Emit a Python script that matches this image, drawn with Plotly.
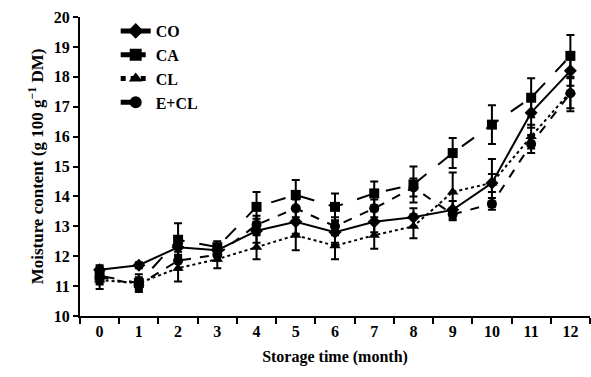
import plotly.graph_objects as go

months = [str(i) for i in range(13)]

co = [11.55, 11.7, 12.3, 12.2, 12.85, 13.15, 12.8, 13.15, 13.3, 13.55, 14.45, 16.8, 18.2]
ca = [11.35, 11.1, 12.55, 12.3, 13.65, 14.05, 13.65, 14.1, 14.4, 15.45, 16.4, 17.3, 18.7]
cl = [11.2, 11.1, 11.6, 11.9, 12.3, 12.7, 12.35, 12.7, 13.0, 14.15, 14.45, 16.0, 17.5]
ecl = [11.3, 11.05, 11.85, 12.05, 13.05, 13.6, 13.0, 13.6, 14.3, 13.4, 13.75, 15.75, 17.45]

co_err = [0.15, 0.1, 0.3, 0.2, 0.4, 0.4, 0.35, 0.35, 0.3, 0.3, 0.8, 0.5, 0.5]
ca_err = [0.3, 0.2, 0.55, 0.2, 0.5, 0.5, 0.45, 0.4, 0.6, 0.5, 0.65, 0.65, 0.7]
cl_err = [0.3, 0.3, 0.45, 0.3, 0.4, 0.5, 0.45, 0.45, 0.4, 0.65, 0.3, 0.4, 0.65]
ecl_err = [0.2, 0.2, 0.3, 0.2, 0.3, 0.3, 0.3, 0.3, 0.3, 0.2, 0.2, 0.3, 0.5]

series = [
    ("CO", co, co_err, "solid", "diamond"),
    ("CA", ca, ca_err, "longdash", "square"),
    ("CL", cl, cl_err, "dot", "triangle-up"),
    ("E+CL", ecl, ecl_err, "dash", "circle"),
]

def f(size):
    return dict(family="Liberation Serif", size=size, color="black", weight="bold")

fig = go.Figure()
for name, y, e, dash, sym in series:
    fig.add_trace(go.Scatter(
        x=months, y=y, name=name, mode="lines+markers",
        line=dict(color="black", width=2, dash=dash),
        marker=dict(symbol=sym, size=10, color="black"),
        error_y=dict(type="data", array=e, visible=True, color="black",
                     thickness=2, width=4),
    ))

fig.update_layout(
    width=591, height=377,
    margin=dict(l=80, r=1, t=17, b=61),
    paper_bgcolor="white", plot_bgcolor="white",
    font=f(15),
    showlegend=True,
    legend=dict(x=0.07, y=1.01, xanchor="left", yanchor="top",
                bgcolor="rgba(0,0,0,0)", font=f(16), tracegroupgap=0,
                itemsizing="constant"),
    xaxis=dict(type="category", tickson="boundaries", range=[-0.5, 12.5],
               showline=True, linecolor="black", linewidth=2,
               ticks="outside", ticklen=6, tickwidth=2, tickcolor="black",
               showgrid=False, zeroline=False,
               title=dict(text="Storage time (month)", font=f(16), standoff=12),
               tickfont=f(16)),
    yaxis=dict(range=[10, 20], dtick=1,
               showline=True, linecolor="black", linewidth=2,
               ticks="outside", ticklen=5, tickwidth=2, tickcolor="black",
               showgrid=False, zeroline=False,
               title=dict(text="Moisture content (g 100 g<sup>−1</sup> DM)", font=f(17), standoff=6),
               tickfont=f(16)),
)

fig.write_html("out.html")
